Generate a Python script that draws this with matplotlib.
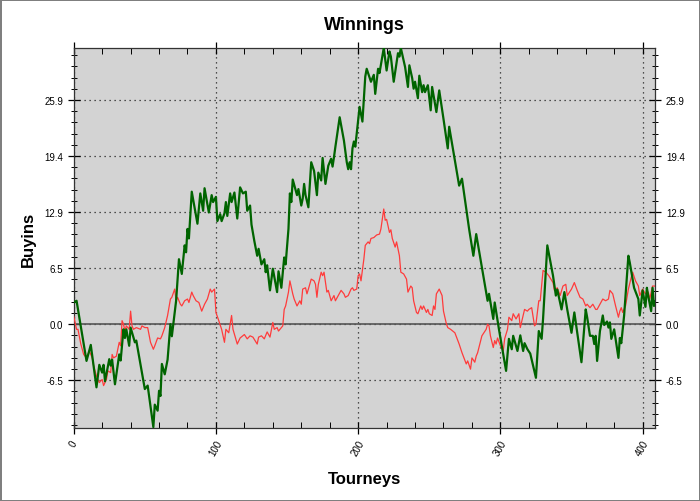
import numpy as np
import matplotlib
matplotlib.use("Agg")
import matplotlib.pyplot as plt
from matplotlib.ticker import MultipleLocator, FixedLocator

plt.rcParams["font.family"] = ["Liberation Sans", "DejaVu Sans"]

# ── Data ──────────────────────────────────────────────────────────────────────

green_t = [0, 2, 9, 12, 16, 18, 20, 21, 22, 25, 26, 27, 29, 32, 33, 35, 36, 37,
           39, 40, 43, 44, 50, 52, 56, 57, 59, 60, 61, 62, 64, 66, 68, 69, 72,
           74, 76, 78, 79, 80, 81, 83, 87, 89, 91, 92, 95, 97, 98, 100, 101,
           103, 104, 106, 107, 108, 110, 111, 113, 115, 117, 119, 121, 122,
           124, 125, 127, 129, 130, 132, 134, 135, 136, 138, 140, 143, 144,
           146, 148, 149, 151, 152, 153, 154, 157, 158, 160, 161, 162, 163,
           165, 167, 169, 171, 172, 174, 175, 177, 179, 181, 182, 183, 184,
           187, 190, 192, 193, 194, 195, 196, 197, 198, 199, 201, 203, 205,
           206, 209, 211, 212, 214, 215, 218, 220, 222, 223, 225, 228, 229,
           230, 233, 235, 236, 238, 239, 240, 242, 243, 245, 246, 247, 249,
           251, 252, 255, 257, 258, 260, 263, 264, 271, 273, 278, 281, 283,
           291, 292, 295, 296, 299, 304, 306, 308, 309, 312, 314, 316, 317,
           319, 321, 322, 325, 327, 329, 330, 333, 337, 339, 340, 343, 345,
           347, 350, 352, 357, 360, 361, 363, 365, 366, 367, 368, 370, 372,
           373, 375, 376, 377, 378, 380, 383, 384, 385, 387, 390, 391, 393,
           394, 397, 398, 400, 402, 403, 404, 406, 407, 408, 409]
green_v = [2.5, 2.7, -4.25, -2.4, -7.3, -4.7, -5.6, -4.7, -6.6, -4.05, -4.8,
           -4.1, -6.95, -3.5, -4.2, -0.6, -1.6, -0.6, -2.5, -0.4, -2.1, -1.9,
           -7.5, -7.1, -11.9, -9.3, -10.0, -7.7, -8.3, -4.6, -5.8, -4.1, 0.0,
           -1.4, 2.7, 7.5, 5.8, 9.1, 8.3, 11.0, 9.9, 15.3, 11.6, 15.1, 13.1,
           15.7, 12.9, 14.9, 14.1, 14.7, 11.9, 12.7, 11.9, 12.8, 14.1, 12.5,
           15.1, 14.1, 15.2, 12.2, 15.8, 15.1, 15.3, 13.1, 13.7, 11.5, 9.6,
           7.9, 8.7, 6.9, 7.5, 6.0, 6.8, 3.9, 6.4, 3.7, 6.1, 4.2, 7.7, 6.9,
           11.0, 15.1, 14.1, 16.7, 14.9, 15.6, 13.7, 14.5, 16.2, 14.9, 13.5,
           18.7, 17.7, 14.9, 17.5, 16.6, 19.2, 16.2, 18.3, 19.1, 18.2, 19.3,
           20.5, 23.9, 21.2, 18.7, 17.9, 18.7, 17.9, 20.3, 21.1, 20.5, 22.0,
           25.1, 23.4, 28.6, 29.5, 28.0, 28.8, 26.6, 29.5, 29.0, 31.9, 29.3,
           31.5, 30.9, 28.0, 31.3, 30.9, 31.9, 29.7, 27.4, 29.9, 28.4, 27.2,
           28.0, 26.1, 28.7, 26.8, 27.6, 26.8, 27.6, 24.7, 27.4, 24.5, 27.0,
           25.9, 23.7, 20.3, 22.8, 16.0, 16.8, 11.0, 7.9, 10.4, 2.7, 3.5, 0.6,
           2.5, -0.6, -5.4, -1.7, -2.9, -1.35, -3.1, -1.3, -3.1, -2.2, -2.9,
           -3.4, -4.1, -6.2, -0.8, -1.7, 0.6, 9.1, 5.6, 3.3, 4.0, 1.7, 3.7,
           1.7, -1.0, 1.35, -4.4, 1.7, 0.8, -1.35, -1.35, -2.3, -1.35, -4.25,
           -0.8, 1.0, -0.1, 0.3, -0.4, 0.2, -1.7, -0.6, -3.9, -1.6, -2.2, 1.0,
           7.9, 7.1, 5.2, 4.2, 2.9, 1.0, 3.9, 2.0, 4.2, 3.2, 1.5, 4.2, 2.1, 2.6]

red_t = [0, 2, 3, 5, 7, 9, 11, 13, 14, 16, 18, 20, 21, 23, 24, 26, 27, 28, 30,
         32, 33, 34, 35, 36, 37, 39, 40, 41, 42, 44, 47, 48, 50, 52, 54, 56,
         57, 59, 61, 62, 64, 66, 68, 69, 71, 72, 73, 75, 76, 78, 80, 81, 83,
         84, 86, 88, 90, 92, 94, 96, 97, 99, 100, 102, 104, 106, 107, 109,
         111, 112, 115, 117, 120, 122, 124, 126, 129, 130, 132, 134, 136, 138,
         140, 141, 143, 144, 145, 147, 148, 149, 151, 152, 154, 155, 157, 159,
         160, 161, 163, 164, 165, 167, 169, 170, 171, 172, 174, 175, 176, 178,
         179, 181, 183, 184, 186, 188, 190, 191, 193, 195, 196, 197, 199, 200,
         201, 202, 204, 205, 207, 208, 209, 211, 213, 215, 216, 218, 219, 220,
         222, 223, 224, 226, 227, 229, 230, 232, 234, 235, 237, 238, 239, 241,
         242, 244, 245, 246, 248, 249, 250, 252, 253, 254, 255, 257, 259, 260,
         262, 263, 265, 268, 271, 273, 276, 277, 279, 280, 282, 283, 284, 287,
         290, 291, 292, 293, 295, 296, 297, 298, 300, 302, 303, 305, 306, 308,
         309, 311, 313, 314, 316, 317, 319, 320, 322, 324, 325, 327, 328, 330,
         332, 334, 337, 338, 340, 342, 344, 346, 347, 350, 352, 354, 356, 358,
         360, 361, 363, 365, 367, 368, 370, 372, 374, 376, 377, 379, 381, 383,
         384, 385, 386, 388, 390, 392, 393, 395, 397, 398, 400, 402, 404, 405,
         407, 409]
red_v = [0.9, -0.6, -0.6, -2.3, -3.5, -3.9, -3.1, -3.9, -4.8, -6.0, -6.75,
         -6.4, -7.1, -6.4, -5.4, -5.6, -3.5, -3.9, -3.7, -2.1, -2.5, 0.4, 0.0,
         -0.8, -0.2, -0.6, 1.5, -0.2, -0.6, -0.4, -0.6, -0.2, -0.4, -0.4,
         -2.1, -2.9, -2.5, -1.6, -1.7, -1.35, -0.4, 1.0, 2.9, 3.1, 4.05, 2.7,
         3.1, 2.3, 2.1, 2.7, 2.9, 2.5, 3.7, 3.3, 2.7, 2.5, 1.5, 2.3, 2.9, 4.05,
         3.7, 4.05, 1.35, 0.4, -0.6, -2.1, -0.6, -1.0, 1.0, -0.6, -2.3, -1.6,
         -1.2, -1.7, -1.35, -1.5, -2.3, -1.5, -1.35, -1.7, -0.9, -1.5, 0.2,
         -0.6, -0.4, -0.8, -0.6, -0.2, 1.7, 2.1, 3.7, 5.0, 3.5, 2.9, 2.1, 2.7,
         2.3, 4.05, 4.2, 3.5, 4.05, 5.2, 5.0, 4.6, 3.1, 4.6, 6.0, 5.6, 6.0,
         3.7, 3.9, 2.7, 3.3, 2.7, 3.3, 3.9, 3.5, 3.1, 3.3, 4.05, 4.2, 3.9,
         4.05, 5.6, 5.8, 5.0, 7.5, 9.1, 9.5, 9.3, 9.9, 10.0, 10.3, 10.4, 11.0,
         13.3, 12.0, 12.1, 10.6, 10.9, 9.9, 8.9, 9.5, 7.9, 6.0, 5.8, 5.2, 3.7,
         4.4, 4.2, 2.7, 1.35, 1.2, 2.1, 1.7, 2.1, 1.35, 1.7, 1.2, 1.0, 2.1,
         1.7, 3.5, 4.05, 3.3, 1.5, 0.05, -0.4, -0.6, -1.0, -2.3, -3.3, -4.6,
         -4.25, -5.2, -3.9, -4.4, -3.7, -3.3, -1.35, -0.6, 0.0, -0.2, -1.35,
         -2.7, -1.9, -2.3, -1.6, -2.5, -3.1, -1.7, -0.6, 0.8, 0.4, 1.2, 0.6,
         1.2, -0.4, 1.0, 1.7, 1.5, 1.7, 1.9, -0.2, 0.0, 2.7, 2.7, 6.2, 6.0,
         5.6, 4.8, 3.9, 4.2, 3.3, 4.4, 4.6, 3.3, 4.05, 4.8, 3.9, 3.1, 2.9,
         2.1, 2.3, 1.9, 2.3, 1.7, 1.7, 2.3, 2.9, 2.7, 2.9, 3.9, 3.5, 2.1, 0.8,
         1.5, 1.9, 1.35, 2.1, 4.05, 5.4, 6.0, 5.0, 4.4, 3.3, 4.05, 3.5, 3.7,
         2.9, 4.4, 4.4]

y_ticks = [-6.475, 0.0, 6.475, 12.95, 19.425, 25.9]
y_tick_labels = ["-6.5", "0.0", "6.5", "12.9", "19.4", "25.9"]
x_ticks = [0, 100, 200, 300, 400]

# ── Plot ──────────────────────────────────────────────────────────────────────

fig = plt.figure(figsize=(7.0, 5.02), dpi=100, facecolor="white",
                 edgecolor="#7f7f7f", linewidth=2)
ax = fig.add_axes([0.1053, 0.1454, 0.831, 0.757])
ax.set_facecolor("#d3d3d3")

ax.axhline(0, color="#555555", linewidth=1.2, zorder=2)
ax.plot(red_t, red_v, color="#ff3b3b", linewidth=0.9, zorder=3)
ax.plot(green_t, green_v, color="#006400", linewidth=1.6, zorder=4)

ax.set_xlim(0, 409)
ax.set_ylim(-12.0, 31.9)

ax.xaxis.set_major_locator(FixedLocator(x_ticks))
ax.xaxis.set_minor_locator(MultipleLocator(20))
ax.set_xticklabels([str(v) for v in x_ticks], rotation=60, fontsize=7,
                   ha="center", va="top")
ax.set_yticks(y_ticks)
ax.set_yticklabels(y_tick_labels, fontsize=7)
ax.yaxis.set_minor_locator(MultipleLocator(6.475 / 5))

ax.tick_params(axis="both", which="major", direction="inout", length=8,
               width=0.9, top=True, right=True, labelright=True)
ax.tick_params(axis="both", which="minor", direction="inout", length=5,
               width=0.7, top=True, right=True)
ax.tick_params(axis="x", which="minor", direction="in", length=4)

ax.grid(True, which="major", linestyle=(0, (1, 3)), color="#222222",
        linewidth=0.9)
for s in ax.spines.values():
    s.set_color("#333333")
    s.set_linewidth(0.9)

ax.set_title("Winnings", fontsize=13, fontweight="bold", pad=14)
ax.set_xlabel("Tourneys", fontsize=12, fontweight="bold", labelpad=10)
ax.set_ylabel("Buyins", fontsize=12, fontweight="bold", labelpad=6)

fig.savefig("out.png", dpi=100)
